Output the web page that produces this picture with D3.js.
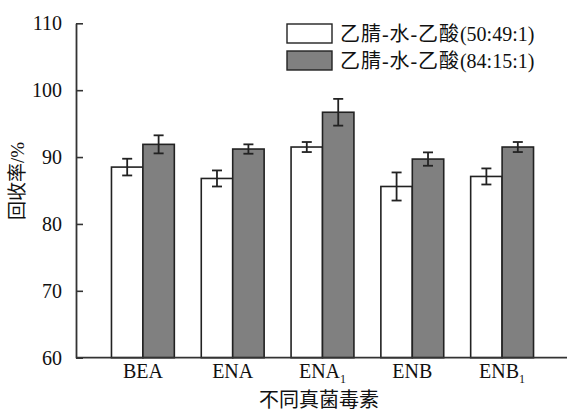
<!DOCTYPE html>
<html>
<head>
<meta charset="utf-8">
<script src="https://cdn.jsdelivr.net/npm/d3@7"></script>
<style>
  body { margin: 0; background: #fff; }
  text { font-family: "Liberation Serif", "Noto Sans CJK SC", serif; fill: #111; }
</style>
</head>
<body>
<div id="container"></div>
<script>
const WIDTH = 567;
const HEIGHT = 411;

var CATEGORIES = ["BEA", "ENA", "ENA1", "ENB", "ENB1"];
var SERIES_NAMES = [["乙腈-水-乙酸", "(50:49:1)"], ["乙腈-水-乙酸", "(84:15:1)"]];
var SERIES_A = [88.5, 86.8, 91.5, 85.6, 87.1];
var SERIES_A_ERR = [1.25, 1.2, 0.75, 2.1, 1.2];
var SERIES_B = [91.9, 91.2, 96.7, 89.7, 91.5];
var SERIES_B_ERR = [1.35, 0.7, 2.0, 1.0, 0.75];
var Y_TICKS = [60, 70, 80, 90, 100, 110];
var FILLS = ["#ffffff", "#808080"];

var svg = d3.select("#container").append("svg")
    .attr("width", WIDTH)
    .attr("height", HEIGHT);

var yScale = d3.scaleLinear().domain([60, 110]).range([357.7, 23.3]);
var xScale = d3.scaleBand().domain(CATEGORIES).range([98, 547]).paddingInner(0.3).paddingOuter(0.15);
var sub = d3.scaleBand().domain([0, 1]).range([0, xScale.bandwidth()]);

var rows = CATEGORIES.map(function (c, i) {
    return [
        {cat: c, s: 0, v: SERIES_A[i], e: SERIES_A_ERR[i]},
        {cat: c, s: 1, v: SERIES_B[i], e: SERIES_B_ERR[i]}
    ];
});
var flat = [].concat.apply([], rows);

// bars
svg.selectAll(".bar").data(flat).enter().append("rect")
    .attr("class", "bar")
    .attr("x", function (d) { return xScale(d.cat) + sub(d.s); })
    .attr("y", function (d) { return yScale(d.v); })
    .attr("width", sub.bandwidth())
    .attr("height", function (d) { return yScale(60) - yScale(d.v); })
    .attr("fill", function (d) { return FILLS[d.s]; })
    .attr("stroke", "#222")
    .attr("stroke-width", 1.6);

// error bars
var err = svg.selectAll(".err").data(flat).enter().append("g")
    .attr("class", "err")
    .attr("stroke", "#222")
    .attr("stroke-width", 1.8);
var cx = function (d) { return xScale(d.cat) + sub(d.s) + sub.bandwidth() / 2; };
err.append("line")
    .attr("x1", cx).attr("x2", cx)
    .attr("y1", function (d) { return yScale(d.v + d.e); })
    .attr("y2", function (d) { return yScale(d.v - d.e); });
err.append("line")
    .attr("x1", function (d) { return cx(d) - 5; }).attr("x2", function (d) { return cx(d) + 5; })
    .attr("y1", function (d) { return yScale(d.v + d.e); })
    .attr("y2", function (d) { return yScale(d.v + d.e); });
err.append("line")
    .attr("x1", function (d) { return cx(d) - 5; }).attr("x2", function (d) { return cx(d) + 5; })
    .attr("y1", function (d) { return yScale(d.v - d.e); })
    .attr("y2", function (d) { return yScale(d.v - d.e); });

// y axis
var yAxis = d3.axisLeft(yScale).tickValues(Y_TICKS).tickSize(-7).tickPadding(14).tickSizeOuter(0);
var gy = svg.append("g").attr("transform", "translate(76,0)").call(yAxis)
    .attr("font-family", "Liberation Serif");
gy.select(".domain").attr("stroke", "#333").attr("stroke-width", 1.8);
gy.selectAll(".tick line").attr("stroke", "#333").attr("stroke-width", 1.6);
gy.selectAll(".tick text").attr("font-size", 20).attr("fill", "#111")
    .style("font-family", "'Liberation Serif', serif");

// x axis line
svg.append("line")
    .attr("x1", 76).attr("x2", WIDTH)
    .attr("y1", yScale(60)).attr("y2", yScale(60))
    .attr("stroke", "#333").attr("stroke-width", 1.8);

// x labels with subscript
var xl = svg.selectAll(".xl").data(CATEGORIES).enter().append("text")
    .attr("class", "xl")
    .attr("x", function (d) { return xScale(d) + xScale.bandwidth() / 2; })
    .attr("y", 378)
    .attr("text-anchor", "middle")
    .attr("font-size", 20);
xl.each(function (d) {
    var t = d3.select(this);
    var m = d.match(/^([A-Z]+)(\d*)$/);
    t.append("tspan").text(m[1]);
    if (m[2]) t.append("tspan").attr("dy", 5).attr("font-size", 12).text(m[2]);
});

// axis titles
svg.append("text")
    .attr("x", 319).attr("y", 407)
    .attr("text-anchor", "middle")
    .attr("font-size", 20)
    .text("不同真菌毒素");
svg.append("text")
    .attr("transform", "translate(24,181) rotate(-90)")
    .attr("text-anchor", "middle")
    .attr("font-size", 19)
    .text("回收率/%");

// legend
var lg = svg.selectAll(".lg").data(SERIES_NAMES).enter().append("g")
    .attr("class", "lg")
    .attr("transform", function (d, i) { return "translate(287," + (24 + i * 27) + ")"; });
lg.append("rect")
    .attr("width", 45).attr("height", 19)
    .attr("fill", function (d, i) { return FILLS[i]; })
    .attr("stroke", "#222").attr("stroke-width", 1.4);
var lt = lg.append("text")
    .attr("x", 53).attr("y", 17)
    .attr("font-size", 20);
lt.append("tspan")
    .attr("textLength", 119)
    .attr("lengthAdjust", "spacing")
    .text(function (d) { return d[0]; });
lt.append("tspan").text(function (d) { return d[1]; });
</script>
</body>
</html>
